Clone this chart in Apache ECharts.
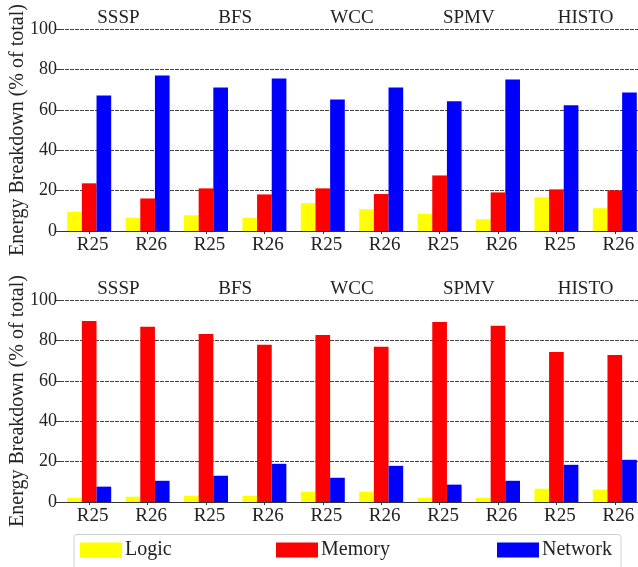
<!DOCTYPE html>
<html>
<head>
<meta charset="utf-8">
<script src="https://cdn.jsdelivr.net/npm/echarts@6/dist/echarts.min.js"></script>
<style>
html,body{margin:0;padding:0;background:#fff;}
#chart{width:638px;height:567px;}
</style>
</head>
<body>
<div id="chart"></div>
<script>
var categories = ['R25','R26','R25','R26','R25','R26','R25','R26','R25','R26'];
var groups = ['SSSP','BFS','WCC','SPMV','HISTO'];
var yTicks = [0,20,40,60,80,100];
var seriesNames = ['Logic','Memory','Network'];
var colors = ['#ffff00','#ff0000','#0000ff'];

var topLogic   = [9.5, 6.5, 7.8, 6.5, 13.8, 10.8, 8.5, 5.8, 16.7, 11.3];
var topMemory  = [23.6, 16.1, 21.1, 18.1, 21.1, 18.3, 27.5, 19.1, 20.6, 20.1];
var topNetwork = [67.1, 77.0, 71.1, 75.5, 65.1, 71.1, 64.2, 75.0, 62.2, 68.6];

var botLogic   = [2.1, 2.6, 3.1, 3.1, 5.1, 5.1, 2.1, 2.1, 6.6, 6.1];
var botMemory  = [89.6, 86.7, 83.2, 77.8, 82.7, 76.8, 89.1, 87.2, 74.3, 72.8];
var botNetwork = [7.6, 10.5, 13.0, 18.9, 12.0, 17.9, 8.6, 10.5, 18.4, 20.9];

var FONT = '"Liberation Serif", "DejaVu Serif", serif';
var TXT = '#222';

function catAxis(gridIndex){
  return {
    type:'category', gridIndex:gridIndex, data:categories, position:'bottom',
    axisLine:{show:true, lineStyle:{color:'#333', width:1}},
    axisTick:{show:true, alignWithLabel:true, length:3, lineStyle:{color:'#333'}},
    axisLabel:{fontFamily:FONT, fontSize:19, color:TXT, margin:5, padding:[0,0,0,7]},
    splitLine:{show:false}
  };
}
function titleAxis(gridIndex){
  return {
    type:'category', gridIndex:gridIndex, data:groups, position:'top',
    axisLine:{show:false}, axisTick:{show:false},
    axisLabel:{fontFamily:FONT, fontSize:19, color:TXT, margin:1},
    splitLine:{show:false}
  };
}
function valAxis(gridIndex){
  return {
    type:'value', gridIndex:gridIndex, min:yTicks[0], max:yTicks[yTicks.length-1], interval:20,
    name:'Energy Breakdown (% of total)', nameLocation:'middle', nameGap:32,
    nameMoveOverlap:false,
    nameTextStyle:{fontFamily:FONT, fontSize:20, color:TXT},
    axisLine:{show:false},
    axisTick:{show:true, length:5, lineStyle:{color:'#333'}},
    axisLabel:{fontFamily:FONT, fontSize:18, color:TXT, margin:3},
    splitLine:{show:true, lineStyle:{color:'#444', width:1, type:[4,1]}}
  };
}
function bar(name, data, idx, color){
  return {
    name:name, type:'bar', data:data, xAxisIndex:idx, yAxisIndex:idx/2|0,
    itemStyle:{color:color}, barGap:'0%', barCategoryGap:'24.7%', animation:false
  };
}

var chart = echarts.init(document.getElementById('chart'), null, {renderer:'canvas'});
var option = {
  animation:false,
  backgroundColor:'#fff',
  grid:[
    {left:60, right:-6, top:29, height:202, containLabel:false, outerBoundsMode:'none'},
    {left:60, right:-6, top:300, height:202, containLabel:false, outerBoundsMode:'none'}
  ],
  xAxis:[catAxis(0), titleAxis(0), catAxis(1), titleAxis(1)],
  yAxis:[valAxis(0), valAxis(1)],
  legend: seriesNames.map(function(n, i){
    var lefts = [80, 276, 497];
    return {
      data:[n], left:lefts[i], top:540, padding:0, itemWidth:42, itemHeight:15,
      icon:'rect', selectedMode:false,
      textStyle:{fontFamily:FONT, fontSize:20, color:TXT, padding:[0,0,0,-2]}
    };
  }),
  graphic:[{
    type:'rect', left:71.5, top:532,
    shape:{width:547, height:45, r:3},
    style:{fill:'none', stroke:'#cfcfcf', lineWidth:1}, z:-1
  }],
  series:[
    bar(seriesNames[0], topLogic, 0, colors[0]),
    bar(seriesNames[1], topMemory, 0, colors[1]),
    bar(seriesNames[2], topNetwork, 0, colors[2]),
    bar(seriesNames[0], botLogic, 2, colors[0]),
    bar(seriesNames[1], botMemory, 2, colors[1]),
    bar(seriesNames[2], botNetwork, 2, colors[2])
  ]
};
chart.setOption(option);
</script>
</body>
</html>
